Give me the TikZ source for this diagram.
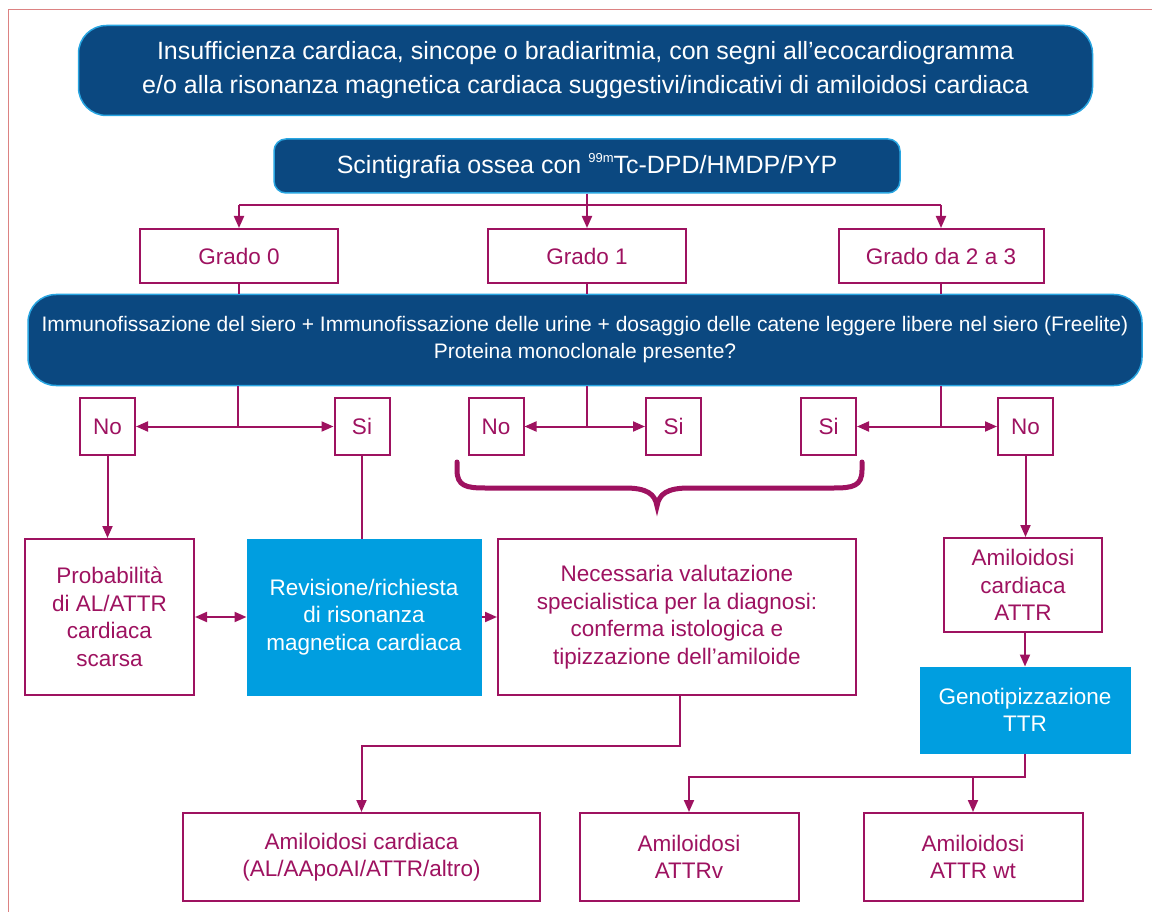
\documentclass[tikz,border=0pt]{standalone}
\usepackage{fontspec}
\setmainfont{Liberation Sans}
\usetikzlibrary{arrows.meta, positioning}
\definecolor{navy}{RGB}{11,72,128}
\definecolor{edgeblue}{RGB}{40,165,225}
\definecolor{skyblue}{RGB}{0,158,224}
\definecolor{plum}{RGB}{158,18,96}
\definecolor{framered}{RGB}{220,130,130}
\tikzset{
    % Dark blue rounded banners
    banner/.style={rectangle, rounded corners=28pt, draw=edgeblue, line width=1.5pt, fill=navy,
        text=white, align=center, inner sep=0pt, font=\fontsize{25}{34}\selectfont},
    % Purple outlined boxes
    pbox/.style={rectangle, draw=plum, line width=2pt, fill=white, text=plum, align=center,
        inner sep=0pt, font=\fontsize{22.5}{27.5}\selectfont},
    % Light blue filled boxes
    bbox/.style={rectangle, draw=skyblue, line width=1pt, fill=skyblue, text=white, align=center,
        inner sep=0pt, font=\fontsize{22.5}{27.5}\selectfont},
    % Yes / no answers
    answer/.style={pbox, minimum width=55, minimum height=57},
    % Connectors
    link/.style={plum, line width=2pt},
    arr/.style={link, -{Triangle[length=12pt, width=10pt]}},
    arrboth/.style={link, {Triangle[length=12pt, width=10pt]}-{Triangle[length=12pt, width=10pt]}}
}
\begin{document}
\begin{tikzpicture}[x=1pt, y=-1pt]
    \useasboundingbox (0,0) rectangle (1152,912);
    % --- Page frame ---
    \draw[framered, line width=1pt] (8,912) -- (8,10) -- (1152,10);

    % --- Header and scintigraphy ---
    \node[banner, minimum width=1014, minimum height=90] (sintomi) at (585.5,70.5)
        {Insufficienza cardiaca, sincope o bradiaritmia, con segni all’ecocardiogramma\\
         e/o alla risonanza magnetica cardiaca suggestivi/indicativi di amiloidosi cardiaca};
    \node[banner, rounded corners=12pt, minimum width=626, minimum height=54] (scinti) at (587,166)
        {Scintigrafia ossea con \raisebox{0.42em}{\fontsize{13}{13}\selectfont 99m}Tc-DPD/HMDP/PYP};

    % --- Grades ---
    \node[pbox, minimum width=198, minimum height=54] (grado0) at (239,256) {Grado 0};
    \node[pbox, minimum width=198, minimum height=54] (grado1) at (587,256) {Grado 1};
    \node[pbox, minimum width=205, minimum height=54] (grado2) at (941,256) {Grado da 2 a 3};

    \coordinate (split) at (587,205);
    \draw[link] (split -| grado0) -- (split -| grado2);
    \draw[arr] (split -| grado0) -- (grado0);
    \draw[arr] (scinti) -- (grado1);
    \draw[arr] (split -| grado2) -- (grado2);

    % --- Immunofixation ---
    \node[banner, font=\fontsize{21}{27}\selectfont, minimum width=1114, minimum height=91] (immuno) at (585,340)
        {Immunofissazione del siero + Immunofissazione delle urine + dosaggio delle catene leggere libere nel siero (Freelite)\\
         Proteina monoclonale presente?};
    \draw[link] (grado0) -- (grado0 |- immuno.north);
    \draw[link] (grado1) -- (grado1 |- immuno.north);
    \draw[link] (grado2) -- (grado2 |- immuno.north);

    % --- Answers ---
    \node[answer] (no0) at (107.5,426.5) {No};
    \node[answer] (si0) at (362,426.5) {Si};
    \node[answer] (no1) at (496,426.5) {No};
    \node[answer] (si1) at (673.5,426.5) {Si};
    \node[answer] (si2) at (828.5,426.5) {Si};
    \node[answer] (no2) at (1025.5,426.5) {No};

    \coordinate (j0) at (238,426.5);
    \coordinate (j1) at (587,426.5);
    \coordinate (j2) at (941,426.5);
    \foreach \j/\a/\b in {j0/no0/si0, j1/no1/si1, j2/si2/no2} {
        \draw[link] (immuno.south -| \j) -- (\j);
        \draw[arr] (\j) -- (\a);
        \draw[arr] (\j) -- (\b);
    }

    % brace under grade 1 / grade 2-3
    \draw[plum, line width=5pt, line cap=round]
        (457,462) -- (457,470) .. controls (457,486) and (466,488) .. (485,488)
        -- (625,488) .. controls (647,488) and (655,494) .. (657,506)
        .. controls (659,494) and (667,488) .. (689,488)
        -- (834,488) .. controls (853,488) and (862,486) .. (862,470) -- (862,462);

    % --- Outcomes ---
    \node[pbox, minimum width=169, minimum height=156] (scarsa) at (109.5,617)
        {Probabilità\\di AL/ATTR\\cardiaca\\scarsa};
    \node[bbox, minimum width=234, minimum height=156] (rmc) at (364,617)
        {Revisione/richiesta\\di risonanza\\magnetica cardiaca};
    \node[pbox, minimum width=358, minimum height=156] (spec) at (677,617)
        {Necessaria valutazione\\specialistica per la diagnosi:\\conferma istologica e\\tipizzazione dell’amiloide};
    \node[pbox, minimum width=158, minimum height=94] (attr) at (1023,585)
        {Amiloidosi\\cardiaca\\ATTR};
    \node[bbox, minimum width=210, minimum height=86] (geno) at (1025,710)
        {Genotipizzazione\\TTR};

    \draw[arr] (no0) -- (no0 |- scarsa.north);
    \draw[link] (si0) -- (si0 |- rmc.north);
    \draw[arrboth] (scarsa) -- (rmc);
    \draw[arr] (rmc) -- (spec);
    \draw[arr] (no2) -- (no2 |- attr.north);
    \draw[arr] (geno.north |- attr.south) -- (geno.north);

    % --- Final diagnoses ---
    \node[pbox, minimum width=357, minimum height=88] (finale) at (361.5,857) {Amiloidosi cardiaca\\(AL/AApoAI/ATTR/altro)};
    \node[pbox, minimum width=219, minimum height=88] (attrv) at (689,857) {Amiloidosi\\ATTRv};
    \node[pbox, minimum width=219, minimum height=88] (attrwt) at (973,857) {Amiloidosi\\ATTR wt};

    \draw[arr] ([xshift=3pt]spec.south) -- ++(0,50) -| (finale);
    \draw[arr] (geno.south) -- ++(0,23) -| (attrv);
    \draw[arr] (attrwt.north |- attrv.north) ++(0,-36) -- (attrwt);
\end{tikzpicture}
\end{document}
